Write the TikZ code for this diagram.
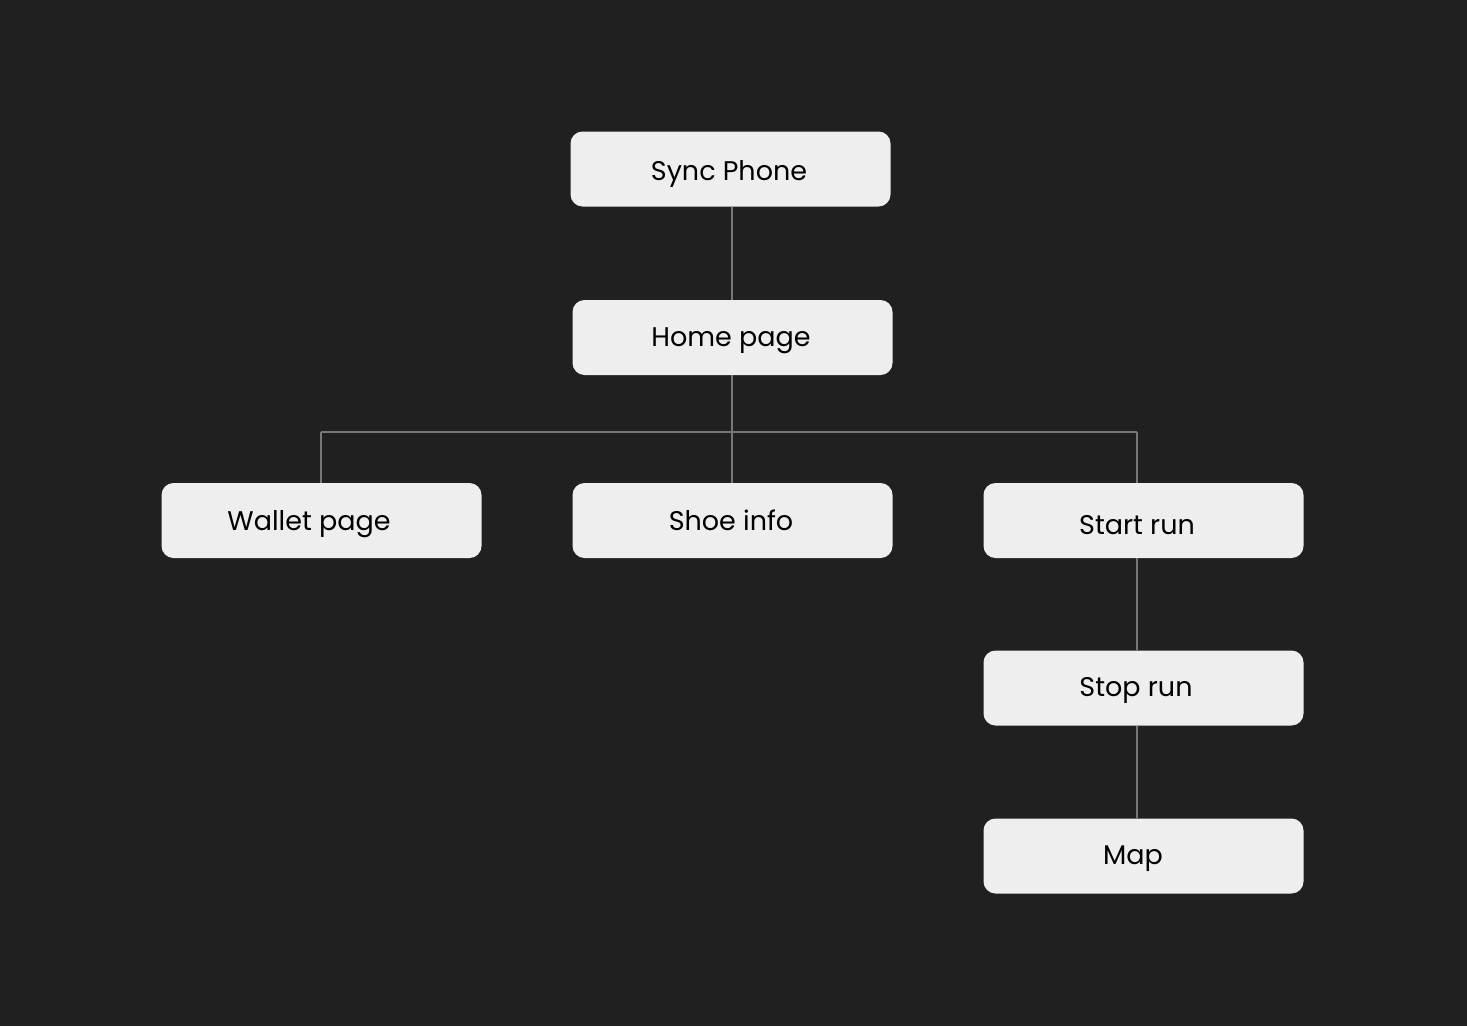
\documentclass[tikz,border=0pt]{standalone}
\usepackage{fontspec}
\setmainfont{Poppins}
\definecolor{bg}{HTML}{202020}
\definecolor{boxfill}{HTML}{EEEEEE}
\definecolor{wire}{HTML}{777777}
\begin{document}
\begin{tikzpicture}[x=1pt,y=-1pt,
  box/.style={draw=none,fill=boxfill,rounded corners=12pt,minimum width=320pt,minimum height=75pt,inner sep=0pt},
  lbl/.style={font=\fontsize{27}{32}\selectfont,text=black,inner sep=0pt,text height=19.5pt,text depth=0pt,anchor=center},
  wireline/.style={draw=wire,line width=2.4pt}]
\fill[bg] (0,0) rectangle (1467,1026);
\useasboundingbox (0,0) rectangle (1467,1026);
\node[box] (sync) at (730.5,169) {};
\node[box] (home) at (732.5,337.5) {};
\node[box] (wallet) at (321.5,520.5) {};
\node[box] (shoe) at (732.5,520.5) {};
\node[box] (start) at (1143.5,520.5) {};
\node[box] (stop) at (1143.5,688) {};
\node[box] (map) at (1143.5,856) {};
\coordinate (hb) at (732,432);
\coordinate (hl) at (321,432);
\coordinate (hr) at (1137,432);
\draw[wireline] (sync.south -| hb) -- (home.north -| hb);
\draw[wireline] (home.south -| hb) -- (hb);
\draw[wireline] (hl) -- (hr);
\draw[wireline] (hl) -- (wallet.north -| hl);
\draw[wireline] (hb) -- (shoe.north -| hb);
\draw[wireline] (hr) -- (start.north -| hr);
\draw[wireline] (start.south -| hr) -- (stop.north -| hr);
\draw[wireline] (stop.south -| hr) -- (map.north -| hr);
\node[lbl] (tsync) at (729,170.5) {Sync Phone};
\node[lbl] (thome) at (731,336.5) {Home page};
\node[lbl] (twallet) at (309,521) {Wallet page};
\node[lbl] (tshoe) at (731,521) {Shoe info};
\node[lbl] (tstart) at (1137,524.5) {Start run};
\node[lbl] (tstop) at (1136,686.5) {Stop run};
\node[lbl] (tmap) at (1133,854.5) {Map};
\end{tikzpicture}
\end{document}
